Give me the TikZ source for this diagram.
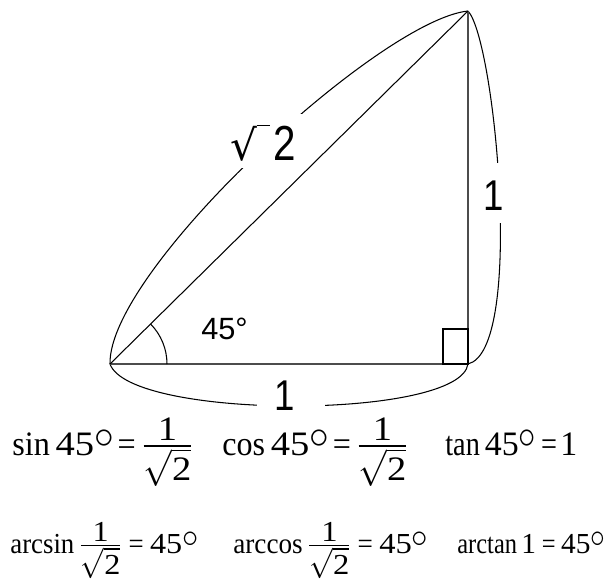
\documentclass[tikz,border=0pt]{standalone}
\usepackage{amsmath}
\usepackage{fontspec}
\setmainfont{Liberation Serif}
\newfontfamily\lsans{Liberation Sans}
\newfontfamily\djv{DejaVu Sans}
\usetikzlibrary{angles}
\newcommand{\nm}[1]{\text{\scalebox{1.2}[1]{#1}}}
\newcommand{\dg}{\mbox{\raisebox{0.18em}{\scalebox{1.15}{$\circ$}}}}
\newcommand{\fr}{{\nulldelimiterspace=0pt\genfrac{}{}{}{1}{\textstyle \nm{1}}{\textstyle\sqrt{\nm{2}}}}}
\newcommand{\eqs}[2]{\mskip#1mu\text{=}\mskip#2mu}
\newcommand{\wb}[2]{\resizebox{#1}{\height}{#2}}
\tikzset{
  side/.style={draw=black!70, line width=0.9pt},
  hyp/.style={draw=black, line width=0.6pt},
  brace/.style={draw=black, line width=0.6pt},
  gap/.style={fill=white, draw=none},
  lbl/.style={anchor=base, inner sep=0pt, font=\lsans\fontsize{24.5}{28}\selectfont},
  eqa/.style={anchor=base west, inner sep=0pt, font=\fontsize{19.5}{22}\selectfont},
  eqb/.style={anchor=base west, inner sep=0pt, font=\fontsize{16.5}{19}\selectfont}
}
\begin{document}
\begin{tikzpicture}[x=0.02cm, y=-0.02cm]
\path[use as bounding box] (0,0) rectangle (612,583);
\coordinate (A) at (110,364);
\coordinate (B) at (468,364);
\coordinate (C) at (468,11);
% braces
\draw[brace] (A) .. controls (108,270) and (380,20) .. (C);
\draw[brace] (C) .. controls (495,40) and (525,350) .. (B);
\draw[brace] (A) .. controls (130,420) and (460,420) .. (B);
% gaps
\path[gap] (240,114) rectangle (305,168);
\path[gap] (480,163) rectangle (515,223);
\path[gap] (257,388) rectangle (325,420);
% triangle
\draw[side] (A) -- (B) -- (C);
\draw[hyp] (A) -- (C);
\draw[line width=0.6pt] (443,329) rectangle (468,364);
\pic[draw, line width=0.6pt, angle radius=1.14cm] {angle=B--A--C};
% labels
\node[lbl, font=\lsans\fontsize{17.5}{20}\selectfont] (ang) at (224.5,339) {45°};
\node[lbl] (oner) at (494,210) {\scalebox{0.85}[1]{1}};
\node[lbl] (oneb) at (285,410) {\scalebox{0.85}[1]{1}};
\node[anchor=base west, inner sep=0pt] (rt) at (230,160)
  {{\djv\fontsize{24}{30}\selectfont √}\raisebox{19.3pt}{\rule{7pt}{0.8pt}}\hspace{2.5pt}{\lsans\fontsize{28}{32}\selectfont\scalebox{0.82}[1]{2}}};
% equations
\node[eqa] (sin) at (12,455) {\wb{3.62cm}{$\sin \nm{45}\dg \eqs{2}{3} \fr$}};
\node[eqa] (cos) at (222,455) {\wb{3.72cm}{$\cos \nm{45}\dg \eqs{2}{3} \fr$}};
\node[eqa] (tan) at (445,455) {\wb{2.64cm}{$\tan \nm{45}\dg \eqs{3}{2} \nm{1}$}};
\node[eqb] (asin) at (10,553) {\wb{3.76cm}{$\arcsin \fr \eqs{4}{4} \nm{45}\dg$}};
\node[eqb] (acos) at (233,553) {\wb{3.90cm}{$\arccos \fr \eqs{4}{4} \nm{45}\dg$}};
\node[eqb] (atan) at (457,553) {\wb{2.96cm}{$\arctan \nm{1} \eqs{4}{4} \nm{45}\dg$}};
\end{tikzpicture}
\end{document}
